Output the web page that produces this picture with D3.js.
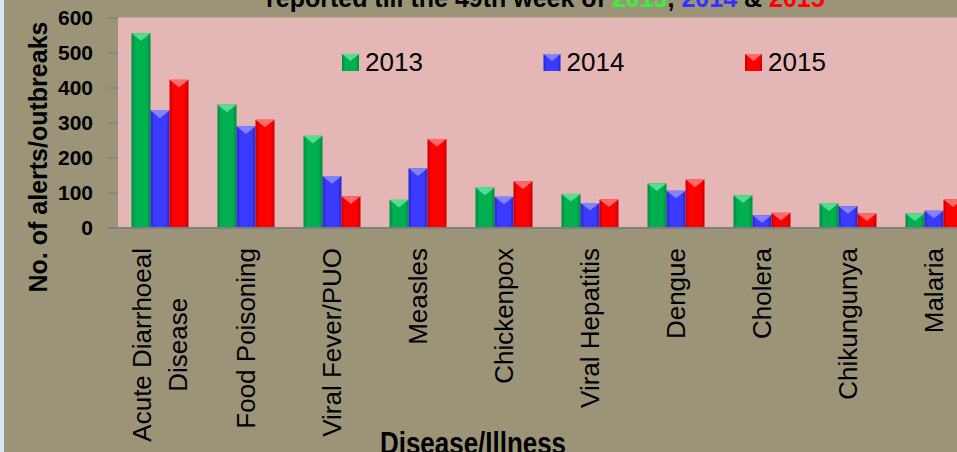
<!DOCTYPE html>
<html>
<head>
<meta charset="utf-8">
<script src="https://cdn.jsdelivr.net/npm/d3@7"></script>
<style>
  body { margin: 0; overflow: hidden; background: #9c9479; }
  text { font-family: "Liberation Sans", Arial, sans-serif; }
</style>
</head>
<body>
<script>
// chart data
var diseases = ["Acute Diarrhoeal\nDisease", "Food Poisoning", "Viral Fever/PUO", "Measles",
  "Chickenpox", "Viral Hepatitis", "Dengue", "Cholera", "Chikungunya", "Malaria"];
var years = ["2013", "2014", "2015"];
var cases2013 = [555, 351, 262, 79, 114, 96, 126, 92, 69, 40];
var cases2014 = [334, 289, 147, 169, 88, 70, 105, 35, 61, 48];
var cases2015 = [422, 308, 89, 253, 132, 80, 137, 42, 40, 80];
var yTicks = [0, 100, 200, 300, 400, 500, 600];

var series = [cases2013, cases2014, cases2015];
var colors = {
  "2013": {base: "#00b050", edge: "#008a3c", top: "#55dc8e", title: "#3bef3b"},
  "2014": {base: "#3b3bff", edge: "#2424c8", top: "#8282ff", title: "#3333ff"},
  "2015": {base: "#ff0000", edge: "#c80000", top: "#ff6a6a", title: "#ff0000"}
};

var width = 957, height = 452;
var plotTop = 17.5, plotBottom = 227.5, plotLeft = 118;

var svg = d3.select("body").append("svg")
  .attr("width", width)
  .attr("height", height);

var defs = svg.append("defs");
years.forEach(function(yr) {
  var g = defs.append("linearGradient").attr("id", "grad" + yr)
    .attr("x1", "0").attr("x2", "1").attr("y1", "0").attr("y2", "0");
  g.append("stop").attr("offset", "0").attr("stop-color", colors[yr].edge);
  g.append("stop").attr("offset", "0.2").attr("stop-color", colors[yr].base);
  g.append("stop").attr("offset", "0.8").attr("stop-color", colors[yr].base);
  g.append("stop").attr("offset", "1").attr("stop-color", colors[yr].edge);
});

// background
svg.append("rect").attr("width", width).attr("height", height).attr("fill", "#9c9479");
svg.append("rect").attr("width", 4).attr("height", height).attr("fill", "#d5e5f1");
svg.append("rect")
  .attr("x", plotLeft).attr("y", plotTop)
  .attr("width", width - plotLeft).attr("height", plotBottom - plotTop)
  .attr("fill", "#e5b6b6");

var x = d3.scaleBand()
  .domain(diseases)
  .range([117, 977])
  .paddingInner(0.337)
  .paddingOuter(0.1685);

var xs = d3.scaleBand()
  .domain(years)
  .range([0, x.bandwidth()]);

var y = d3.scaleLinear()
  .domain([0, 600])
  .range([plotBottom, plotTop]);

// y axis
var yAxis = d3.axisLeft(y)
  .tickValues(yTicks)
  .tickSize(10)
  .tickPadding(15);

var yg = svg.append("g")
  .attr("transform", "translate(" + plotLeft + ",0)")
  .call(yAxis);
yg.select(".domain").remove();
yg.selectAll(".tick line").attr("stroke", "#808080").attr("stroke-width", 1.5);
yg.selectAll(".tick text")
  .attr("fill", "#000")
  .style("font-size", "21px")
  .style("font-weight", "bold")
  .style("font-family", "'Liberation Sans', Arial, sans-serif");

// bars
var groups = svg.selectAll(".grp")
  .data(diseases)
  .enter().append("g")
  .attr("class", "grp")
  .attr("transform", function(d) { return "translate(" + x(d) + ",0)"; });

var bars = groups.selectAll(".bar")
  .data(function(d, i) {
    return years.map(function(yr, j) { return {year: yr, value: series[j][i]}; });
  })
  .enter().append("g")
  .attr("class", "bar");

bars.append("rect")
  .attr("x", function(d) { return xs(d.year); })
  .attr("y", function(d) { return y(d.value); })
  .attr("width", xs.bandwidth())
  .attr("height", function(d) { return y(0) - y(d.value); })
  .attr("fill", function(d) { return "url(#grad" + d.year + ")"; });

// bevel on top of each bar
bars.append("path")
  .attr("d", function(d) {
    var x0 = xs(d.year), w = xs.bandwidth(), t = y(d.value);
    var h = Math.min(w * 0.4, y(0) - t);
    return "M" + x0 + "," + t + "L" + (x0 + w) + "," + t + "L" + (x0 + w / 2) + "," + (t + h) + "Z";
  })
  .attr("fill", function(d) { return colors[d.year].top; });

// baseline
svg.append("line")
  .attr("x1", 108).attr("x2", width)
  .attr("y1", plotBottom + 0.5).attr("y2", plotBottom + 0.5)
  .attr("stroke", "#808080").attr("stroke-width", 2);

// category labels
var labels = svg.selectAll(".xlab")
  .data(diseases)
  .enter().append("g")
  .attr("class", "xlab")
  .attr("transform", function(d) { return "translate(" + (x(d) + x.bandwidth() / 2) + ",248) rotate(-90)"; });

labels.each(function(d) {
  var lines = d.split("\n");
  var t = d3.select(this).append("text")
    .attr("text-anchor", "middle")
    .style("font-size", "26px")
    .attr("fill", "#000");
  lines.forEach(function(l, k) {
    t.append("tspan")
      .attr("x", 0)
      .attr("y", (k - (lines.length - 1) / 2) * 36)
      .attr("dy", "0.35em")
      .text(l);
  });
  var maxLen = 0;
  t.selectAll("tspan").each(function() { maxLen = Math.max(maxLen, this.getComputedTextLength()); });
  t.selectAll("tspan").attr("x", -maxLen / 2);
});

// legend
var legend = svg.selectAll(".leg")
  .data(years)
  .enter().append("g")
  .attr("class", "leg")
  .attr("transform", function(d, i) { return "translate(" + (342 + i * 201.5) + ",54)"; });

legend.append("rect")
  .attr("width", 17).attr("height", 17)
  .attr("fill", function(d) { return "url(#grad" + d + ")"; });
legend.append("path")
  .attr("d", "M0,0L17,0L8.5,7Z")
  .attr("fill", function(d) { return colors[d].top; });
legend.append("text")
  .attr("x", 23).attr("y", 17)
  .style("font-size", "26px")
  .attr("fill", "#000")
  .text(function(d) { return d; });

// title (top part is cropped in the original)
var title = svg.append("text")
  .attr("x", 266).attr("y", 7)
  .style("font-size", "25px")
  .style("font-weight", "bold")
  .attr("fill", "#000");
title.append("tspan").text("reported till the 49th week of ");
title.append("tspan").attr("fill", colors["2013"].title).text("2013");
title.append("tspan").text(", ");
title.append("tspan").attr("fill", colors["2014"].title).text("2014");
title.append("tspan").text(" & ");
title.append("tspan").attr("fill", colors["2015"].title).text("2015");

// axis titles
svg.append("text")
  .attr("transform", "translate(38,157) rotate(-90)")
  .attr("text-anchor", "middle")
  .attr("dy", "0.35em")
  .style("font-size", "25px")
  .style("font-weight", "bold")
  .text("No. of alerts/outbreaks");

svg.append("text")
  .attr("x", 380).attr("y", 454)
  .attr("textLength", 186)
  .attr("lengthAdjust", "spacingAndGlyphs")
  .style("font-size", "32px")
  .style("font-weight", "bold")
  .text("Disease/Illness");
</script>
</body>
</html>
